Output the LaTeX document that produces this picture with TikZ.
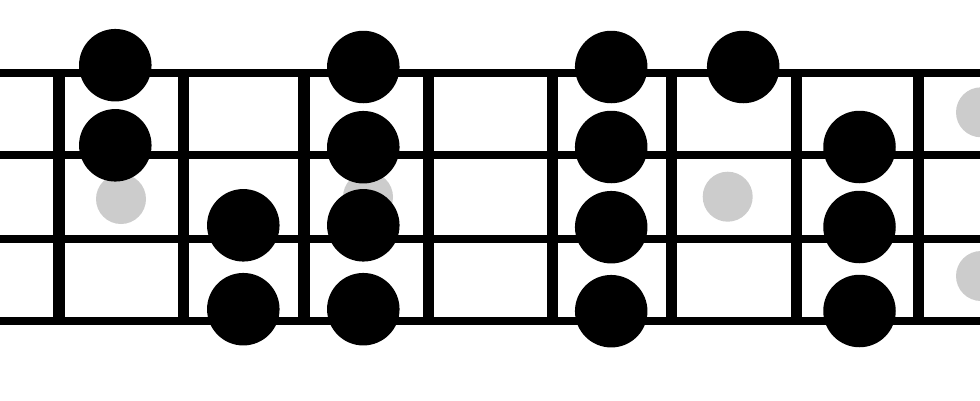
\documentclass[tikz,border=0pt]{standalone}
\usetikzlibrary{calc}
\definecolor{ghost}{HTML}{CCCCCC}
\tikzset{
  stringline/.style={line width=8pt, black},
  fretline/.style={line width=11.3pt, black},
  notedot/.style={circle, fill=black, inner sep=0pt, minimum size=72.5pt},
  ghostdot/.style={circle, fill=ghost, inner sep=0pt, minimum size=50pt},
}
\begin{document}
\begin{tikzpicture}[x=1pt,y=-1pt]
\useasboundingbox (0,0) rectangle (980,400);
% string end points
\coordinate (s1l) at (0,73.3);   \coordinate (s1r) at (980,73.3);
\coordinate (s2l) at (0,154.7);  \coordinate (s2r) at (980,154.7);
\coordinate (s3l) at (0,238.7);  \coordinate (s3r) at (980,238.7);
\coordinate (s4l) at (0,320.8);  \coordinate (s4r) at (980,320.8);
% frets
\foreach \i/\x in {1/59,2/183.3,3/304,4/428.3,5/552.7,6/671.7,7/796.7,8/918.3}{
  \coordinate (f\i t) at (\x,73.3);
  \coordinate (f\i b) at (\x,320.8);
  \draw[fretline] (f\i t) -- (f\i b);
}
\draw[stringline] (s1l) -- (s1r);
\draw[stringline] (s2l) -- (s2r);
\draw[stringline] (s3l) -- (s3r);
\draw[stringline] (s4l) -- (s4r);
% ghost notes
\node[ghostdot] (g1) at (121,199) {};
\node[ghostdot] (g2) at (368,197) {};
\node[ghostdot] (g3) at (727.7,196.7) {};
\node[ghostdot] (g4) at (981,112.3) {};
\node[ghostdot] (g5) at (981,276) {};
% notes
\node[notedot] (a1) at (115.3,65.2) {};
\node[notedot] (a2) at (115.3,145.3) {};
\node[notedot] (b3) at (243.3,225.3) {};
\node[notedot] (b4) at (243.3,309.2) {};
\node[notedot] (c1) at (363.3,67) {};
\node[notedot] (c2) at (363.3,147.2) {};
\node[notedot] (c3) at (363.3,225.3) {};
\node[notedot] (c4) at (363.3,309.2) {};
\node[notedot] (d1) at (611.2,67) {};
\node[notedot] (d2) at (611.2,147) {};
\node[notedot] (d3) at (611.2,227.2) {};
\node[notedot] (d4) at (611.2,311.2) {};
\node[notedot] (e1) at (743.2,67) {};
\node[notedot] (f2) at (859.5,147) {};
\node[notedot] (f3) at (859.5,227) {};
\node[notedot] (f4) at (859.5,311) {};
\end{tikzpicture}
\end{document}
